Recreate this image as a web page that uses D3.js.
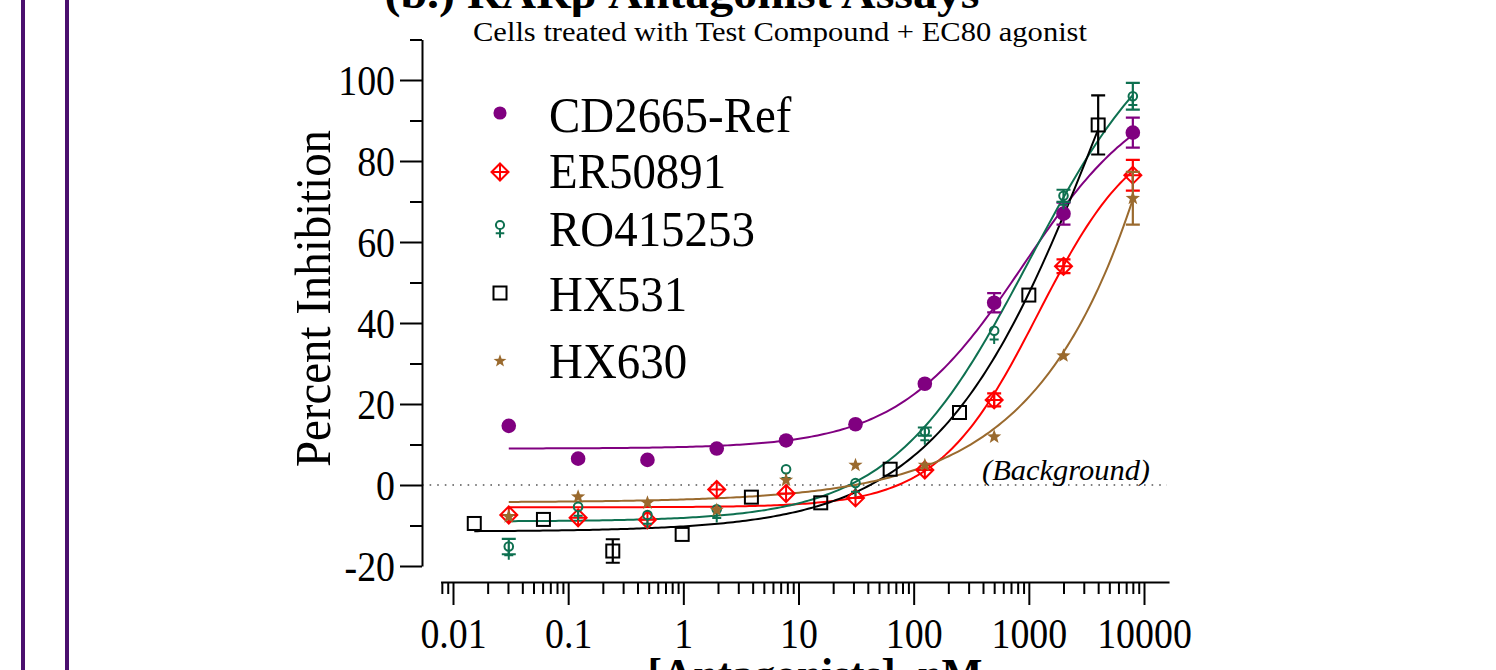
<!DOCTYPE html>
<html>
<head>
<meta charset="utf-8">
<script src="https://cdn.jsdelivr.net/npm/d3@7"></script>
<style>
  body { margin: 0; background: #fff; }
  svg { display: block; }
  text { font-family: "Liberation Serif", "Times New Roman", serif; fill: #000; }
</style>
</head>
<body>
<svg id="chart" width="1496" height="670"></svg>
<script>
// concentrations (nM), 4-fold dilutions
var concs = [0.0305, 0.122, 0.488, 1.95, 7.8, 31.25, 125, 500, 2000, 8000];
var concsHX531 = [0.0153, 0.061, 0.244, 0.977, 3.9, 15.6, 62.5, 250, 1000, 4000];

var seriesNames = ['CD2665-Ref', 'ER50891', 'RO415253', 'HX531', 'HX630'];
var seriesColors = ['#800080', '#ff0000', '#0e7050', '#000000', '#9a6a2e'];

// percent inhibition, mean and error
var cd2665 = [14.6, 6.5, 6.2, 9, 11, 15, 25, 45, 67, 87];
var cd2665Err = [0, 0, 0, 0, 0, 0, 0, 2.4, 2.7, 3.7];
var er50891 = [-7.4, -8.1, -8.6, -1.1, -2.1, -3.2, 3.7, 21, 54, 76.5];
var er50891Err = [0, 0, 0, 0, 0, 0, 0, 1.6, 1.7, 3.8];
var ro415253 = [-15.2, -5.4, -7.4, -6, 3.9, 0.5, 13.2, 38.1, 71.4, 96];
var ro415253Err = [1.9, 0, 0, 0, 0, 0, 1, 0, 1.5, 3.3];
var hx531 = [-9.5, -8.5, -16.3, -12.2, -3, -4.4, 3.9, 17.9, 46.9, 88.9];
var hx531Err = [0, 0, 2.9, 0, 0, 0, 0, 0, 0, 7.3];
var hx630 = [-7.8, -2.9, -4.4, -6.2, 1.2, 4.9, 4.9, 11.9, 31.9, 70.8];
var hx630Err = [0, 0, 0, 0, 0, 0, 0, 0, 0, 6.5];

// fitted 4PL curves: bottom, top, logIC50, hill slope
var fitBottom = [9, -5.5, -9, -11.5, -4.3];
var fitTop = [100, 90, 120, 200, 2000];
var fitLogIC50 = [2.957, 3.08, 3.005, 3.69, 6.617];
var fitHill = [0.8, 1.0, 0.72, 0.6, 0.52];

var xTickValues = [0.01, 0.1, 1, 10, 100, 1000, 10000];
var xTickLabels = ['0.01', '0.1', '1', '10', '100', '1000', '10000'];
var yTicks = [-20, 0, 20, 40, 60, 80, 100];

var svg = d3.select('#chart');
var SX = 0.88;   // the serif face in the figure is narrower than Times

// scales
var xBase = d3.scaleLog().domain([0.01, 10000]).range([453, 1144]);
var x = xBase.copy().domain([0.0078, 16500]).range([xBase(0.0078), xBase(16500)]);
var y = d3.scaleLinear().domain([-20, 110]).range([566, 39.5]);

var series = [
  {name: seriesNames[0], c: concs, v: cd2665, e: cd2665Err, shape: 'circle'},
  {name: seriesNames[1], c: concs, v: er50891, e: er50891Err, shape: 'diamond'},
  {name: seriesNames[2], c: concs, v: ro415253, e: ro415253Err, shape: 'female'},
  {name: seriesNames[3], c: concsHX531, v: hx531, e: hx531Err, shape: 'square'},
  {name: seriesNames[4], c: concs, v: hx630, e: hx630Err, shape: 'star'}
];
series.forEach(function(s, i) { s.color = seriesColors[i]; s.fit = i; });

// side frame lines
svg.append('rect').attr('x', 21).attr('y', 0).attr('width', 4).attr('height', 670).attr('fill', '#4b0f6e');
svg.append('rect').attr('x', 65).attr('y', 0).attr('width', 4).attr('height', 670).attr('fill', '#4b0f6e');

// titles
svg.append('text')
  .attr('x', 682).attr('y', 8)
  .attr('text-anchor', 'middle')
  .attr('font-size', 44).attr('font-weight', 'bold')
  .attr('textLength', 595).attr('lengthAdjust', 'spacingAndGlyphs')
  .text('(b.) RARβ Antagonist Assays');

svg.append('text')
  .attr('x', 780).attr('y', 41)
  .attr('text-anchor', 'middle')
  .attr('font-size', 28)
  .attr('textLength', 614).attr('lengthAdjust', 'spacingAndGlyphs')
  .text('Cells treated with Test Compound + EC80 agonist');

svg.append('text')
  .attr('transform', 'translate(330,298.5) rotate(-90)')
  .attr('text-anchor', 'middle')
  .attr('font-size', 50)
  .attr('textLength', 337).attr('lengthAdjust', 'spacingAndGlyphs')
  .text('Percent Inhibition');

svg.append('text')
  .attr('x', 815).attr('y', 689)
  .attr('text-anchor', 'middle')
  .attr('font-size', 44).attr('font-weight', 'bold')
  .attr('textLength', 335).attr('lengthAdjust', 'spacingAndGlyphs')
  .text('[Antagonists], nM');

// background line
svg.append('line')
  .attr('x1', 422).attr('x2', 1167)
  .attr('y1', y(0)).attr('y2', y(0))
  .attr('stroke', '#555').attr('stroke-width', 1.6)
  .attr('stroke-dasharray', '1.6,6');

svg.append('text')
  .attr('x', 982).attr('y', 480)
  .attr('font-size', 30).attr('font-style', 'italic')
  .attr('textLength', 168).attr('lengthAdjust', 'spacingAndGlyphs')
  .text('(Background)');

// y axis
var yMinor = d3.range(-10, 111, 20);
var yAxisG = svg.append('g').attr('transform', 'translate(422,0)');
yAxisG.call(d3.axisLeft(y).tickValues(yMinor).tickSize(12).tickSizeOuter(0).tickFormat(''));
var yMajorG = svg.append('g').attr('transform', 'translate(422,0)');
yMajorG.call(d3.axisLeft(y).tickValues(yTicks).tickSize(22).tickSizeOuter(0)
  .tickFormat(function(d) { return String(d); }));
yMajorG.select('.domain').remove();
yMajorG.selectAll('text')
  .attr('font-family', null)
  .attr('font-size', 43)
  .attr('x', -27 / SX)
  .attr('dy', '0.34em')
  .attr('transform', 'scale(' + SX + ',1)');

// x axis
var xMinor = [];
[-3, -2, -1, 0, 1, 2, 3].forEach(function(p) {
  for (var m = 2; m <= 9; m++) {
    var v = m * Math.pow(10, p);
    if (v >= 0.0078 && v < 10000) xMinor.push(v);
  }
});
var xAxisG = svg.append('g').attr('transform', 'translate(0,582)');
xAxisG.call(d3.axisBottom(x).tickValues(xMinor).tickSize(12).tickSizeOuter(0).tickFormat(''));
var xMajorG = svg.append('g').attr('transform', 'translate(0,582)');
xMajorG.call(d3.axisBottom(x).tickValues(xTickValues).tickSize(23).tickSizeOuter(0)
  .tickFormat(function(d, i) { return xTickLabels[i]; }));
xMajorG.select('.domain').remove();
xMajorG.selectAll('text')
  .attr('font-family', null)
  .attr('font-size', 43)
  .attr('y', 66).attr('dy', 0)
  .attr('transform', 'scale(' + SX + ',1)')
  .attr('x', 0);

svg.selectAll('.domain, .tick line').attr('stroke', '#000').attr('stroke-width', 2);

// curves
function fitValue(k, c) {
  return fitBottom[k] + (fitTop[k] - fitBottom[k]) /
    (1 + Math.pow(10, (fitLogIC50[k] - Math.log10(c)) * fitHill[k]));
}
var line = d3.line().x(function(d) { return x(d[0]); }).y(function(d) { return y(d[1]); });

series.forEach(function(s) {
  var lo = Math.log10(s.c[0]), hi = Math.log10(s.c[s.c.length - 1]);
  var pts = d3.range(0, 201).map(function(i) {
    var c = Math.pow(10, lo + (hi - lo) * i / 200);
    return [c, fitValue(s.fit, c)];
  });
  svg.append('path')
    .attr('d', line(pts))
    .attr('fill', 'none')
    .attr('stroke', s.color)
    .attr('stroke-width', 2);
});

// markers
function starPath(ro, ri) {
  var p = [];
  for (var i = 0; i < 10; i++) {
    var r = i % 2 ? ri : ro;
    var a = -Math.PI / 2 + i * Math.PI / 5;
    p.push([r * Math.cos(a), r * Math.sin(a)]);
  }
  return 'M' + p.map(function(q) { return q[0].toFixed(2) + ',' + q[1].toFixed(2); }).join('L') + 'Z';
}

function drawMarker(g, shape, color, k) {
  k = k || 1;
  if (shape === 'circle') {
    g.append('circle').attr('r', 7.3 * k).attr('fill', color);
  } else if (shape === 'diamond') {
    var h = 8.5 * k;
    g.append('path')
      .attr('d', 'M0,' + -h + 'L' + h + ',0L0,' + h + 'L' + -h + ',0Z' +
                 'M0,' + -h + 'V' + h + 'M' + -h + ',0H' + h)
      .attr('fill', 'none').attr('stroke', color).attr('stroke-width', 2);
  } else if (shape === 'female') {
    var r = 4.3 * k;
    g.append('circle').attr('r', r).attr('fill', 'none').attr('stroke', color).attr('stroke-width', 2);
    g.append('path')
      .attr('d', 'M0,' + r + 'V' + (r + 9 * k) + 'M' + (-4.5 * k) + ',' + (r + 4.5 * k) + 'H' + (4.5 * k))
      .attr('fill', 'none').attr('stroke', color).attr('stroke-width', 2);
  } else if (shape === 'square') {
    var a = 6.5 * k;
    g.append('rect').attr('x', -a).attr('y', -a).attr('width', 2 * a).attr('height', 2 * a)
      .attr('fill', 'none').attr('stroke', color).attr('stroke-width', 2);
  } else if (shape === 'star') {
    g.append('path').attr('d', starPath(7.5 * k, 3.1 * k)).attr('fill', color);
  }
}

series.forEach(function(s) {
  var g = svg.append('g');
  s.c.forEach(function(c, i) {
    var px = x(c), py = y(s.v[i]);
    if (s.e[i] > 0) {
      var y1 = y(s.v[i] + s.e[i]), y2 = y(s.v[i] - s.e[i]);
      g.append('path')
        .attr('d', 'M' + px + ',' + y1 + 'V' + y2 +
                   'M' + (px - 7) + ',' + y1 + 'H' + (px + 7) +
                   'M' + (px - 7) + ',' + y2 + 'H' + (px + 7))
        .attr('fill', 'none').attr('stroke', s.color).attr('stroke-width', 2.2);
    }
    drawMarker(g.append('g').attr('transform', 'translate(' + px + ',' + py + ')'), s.shape, s.color);
  });
});

// legend
var legendY = [113, 172, 225, 293, 361];
var legendTextY = [132, 188, 246, 311, 378];
series.forEach(function(s, i) {
  var sc = s.shape === 'circle' ? 0.9 : (s.shape === 'star' ? 0.9 : (s.shape === 'female' ? 0.95 : 1));
  drawMarker(svg.append('g').attr('transform', 'translate(500,' + legendY[i] + ')'), s.shape, s.color, sc);
  svg.append('text')
    .attr('transform', 'translate(549,' + legendTextY[i] + ') scale(0.92,1)')
    .attr('font-size', 51)
    .text(s.name);
});
</script>
</body>
</html>
